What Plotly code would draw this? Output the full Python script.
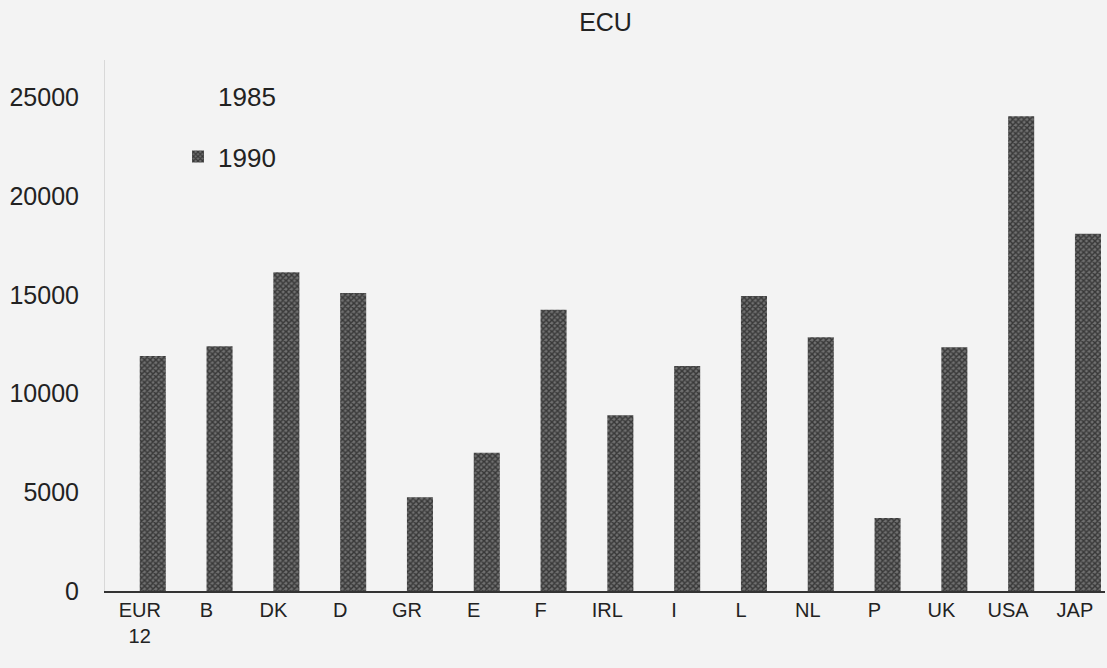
import plotly.graph_objects as go

# country / region codes on the x axis
countries = ["EUR<br>12", "B", "DK", "D", "GR", "E", "F", "IRL", "I", "L",
             "NL", "P", "UK", "USA", "JAP"]

# 1985 bars are printed blank (no ink) in the source, values are rough guesses
values_1985 = [8600, 8900, 11900, 11200, 3700, 4800, 10200, 6100, 8000, 10500,
               9900, 2600, 8900, 18000, 14000]

# 1990 values (ECU)
values_1990 = [11900, 12400, 16150, 15100, 4750, 7000, 14250, 8900, 11400, 14950,
               12850, 3700, 12350, 24050, 18100]

bg = "#f3f3f3"
font_family = "Liberation Sans, Arial, sans-serif"

fig = go.Figure()

fig.add_trace(go.Bar(
    name="1985",
    legendgroup="a",
    x=countries,
    y=values_1985,
    marker=dict(color=bg, line=dict(width=0)),
))

fig.add_trace(go.Bar(
    name="1990",
    legendgroup="b",
    x=countries,
    y=values_1990,
    marker=dict(
        color="#6a6a6a",
        line=dict(width=0),
        pattern=dict(shape="x", fgcolor="#000000", bgcolor="#707070",
                     size=4, solidity=0.6),
    ),
))

fig.update_layout(
    width=1107,
    height=668,
    barmode="group",
    bargap=0.22,
    bargroupgap=0.0,
    paper_bgcolor=bg,
    plot_bgcolor=bg,
    font=dict(family=font_family, size=20, color="#222222"),
    title=dict(text="ECU", x=0.547, xanchor="center", y=0.967, yanchor="middle",
               font=dict(size=25, color="#222222")),
    margin=dict(l=105, r=2, t=60, b=77),
    showlegend=True,
    legend=dict(x=0.073, y=0.977, xanchor="left", yanchor="top",
                bgcolor="rgba(0,0,0,0)", font=dict(size=26),
                tracegroupgap=24, itemwidth=30),
    xaxis=dict(
        range=[-0.52, 14.45],
        showline=True,
        linecolor="#333333",
        linewidth=1.5,
        ticks="",
        showgrid=False,
        tickfont=dict(size=20),
    ),
    yaxis=dict(
        range=[0, 26900],
        tickvals=[0, 5000, 10000, 15000, 20000, 25000],
        ticktext=["0", "5000", "10000", "15000", "20000", "25000"],
        showgrid=False,
        zeroline=False,
        showline=True,
        linecolor="#d8d8d8",
        linewidth=1,
        ticks="",
        ticklabelstandoff=20,
        tickfont=dict(size=25),
    ),
)

# the page has a default 8px body margin; drop it so the chart fills the window
fig.write_html("out.html", config={"displayModeBar": False},
               post_script="document.body.style.margin='0';")
